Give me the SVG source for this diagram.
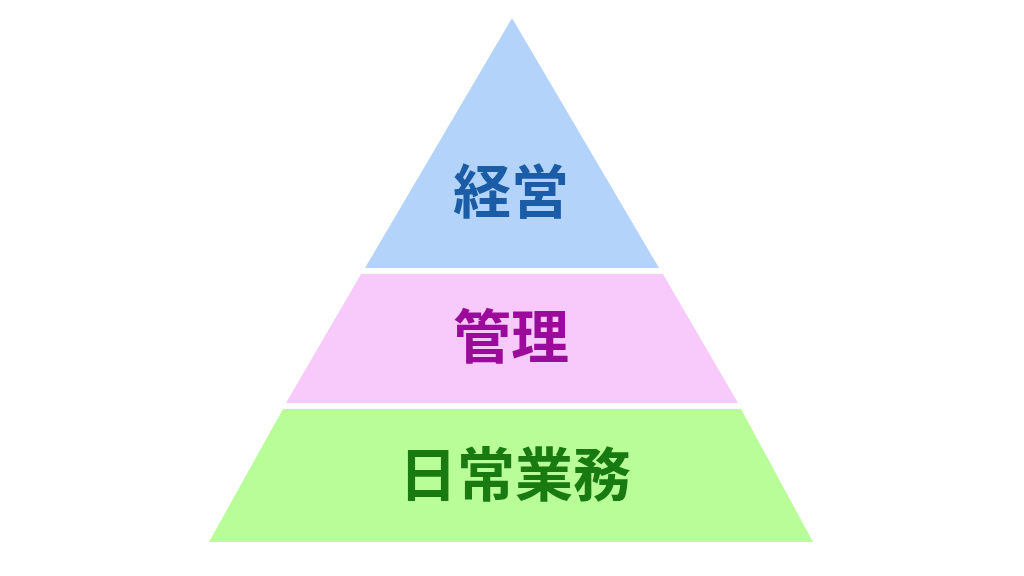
<svg xmlns="http://www.w3.org/2000/svg" width="1024" height="576" viewBox="0 0 1024 576">
<style>
.lbl{font-family:"Noto Sans CJK JP","Noto Sans CJK SC",sans-serif;font-weight:bold;font-size:58px;text-anchor:middle}
</style>
<rect width="1024" height="576" fill="#ffffff"/>
<g id="top">
<polygon points="512,18 659,268 365,268" fill="#b3d3fb"/>
<text class="lbl" x="511" y="213" fill="#1b5ca6">経営</text>
</g>
<g id="middle">
<polygon points="361,274 663,274 738,403 286,403" fill="#f8c9fb"/>
<text class="lbl" x="511" y="358" fill="#9c0a9c">管理</text>
</g>
<g id="bottom">
<polygon points="283,409 741,409 813,542 209,542" fill="#b9fd98"/>
<text class="lbl" x="515" y="496" fill="#1a7a12">日常業務</text>
</g>
</svg>
